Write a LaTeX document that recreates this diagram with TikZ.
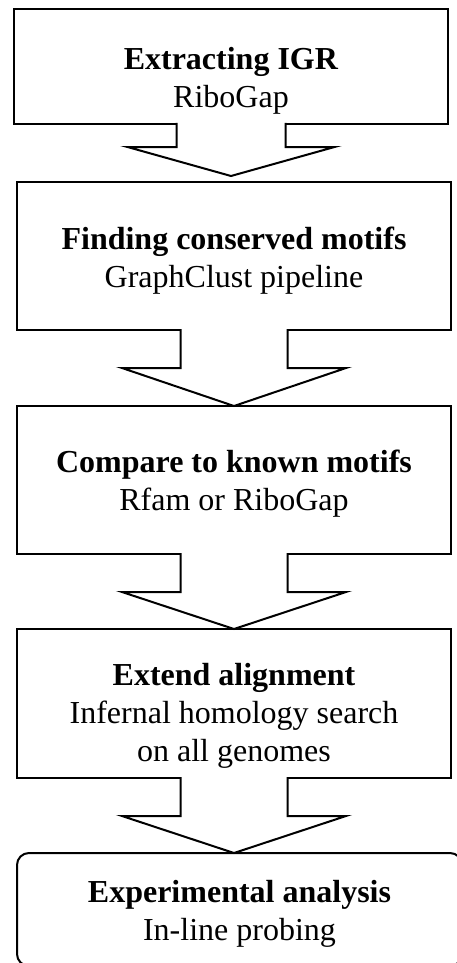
\documentclass[tikz,border=0pt]{standalone}
\usepackage{fontspec}
\setmainfont{Liberation Serif}
\usepackage{tikz}
\usetikzlibrary{calc}

\begin{document}
\begin{tikzpicture}[x=1pt,y=-1pt,line width=2pt,font=\fontsize{32}{38}\selectfont]
    \tikzstyle{stepbox}=[draw=black,fill=white,outer sep=0pt,inner sep=0pt,minimum width=434pt]
    \tikzstyle{steptext}=[align=center,text=black,inner sep=0pt]
    \tikzstyle{flowarrow}=[draw=black,fill=white,line join=miter]
    \useasboundingbox (0,0) rectangle (456,963);
    \node[stepbox,minimum height=115pt] (igr)    at (231,66.5)  {};
    \node[stepbox,minimum height=148pt] (motifs) at (234,256)   {};
    \node[stepbox,minimum height=148pt] (known)  at (234,480)   {};
    \node[stepbox,minimum height=149pt] (extend) at (234,703.5) {};
    \node[stepbox,minimum height=113pt,minimum width=445pt,rounded corners=12pt] (probe) at (239.5,909.5) {};

    \node[steptext] (igr-t)    at ([yshift=-14.75pt]igr.center)   {\textbf{Extracting IGR}\\RiboGap};
    \node[steptext] (motifs-t) at ([yshift=-4.75pt]motifs.center) {\textbf{Finding conserved motifs}\\GraphClust pipeline};
    \node[steptext] (known-t)  at ([yshift=-3.75pt]known.center)  {\textbf{Compare to known motifs}\\Rfam or RiboGap};
    \node[steptext] (extend-t) at ([yshift=-12.25pt]extend.center) {\textbf{Extend alignment}\\Infernal homology search\\on all genomes};
    \node[steptext] (probe-t)  at ([yshift=-4.75pt]probe.center)  {\textbf{Experimental analysis}\\In-line probing};

    % first arrow is shorter, tip stops just above the box
    \coordinate (tip) at ([yshift=6pt]motifs.north);
    \draw[flowarrow] ([shift={(-54.5,-1)}]igr.south) -- ([shift={(-54.5,23)}]igr.south)
        -- ([shift={(-103.5,23)}]igr.south) -- (igr.south |- tip)
        -- ([shift={(103.5,23)}]igr.south) -- ([shift={(54.5,23)}]igr.south)
        -- ([shift={(54.5,-1)}]igr.south);
    \foreach \a/\b in {motifs/known,known/extend,extend/probe}
        \draw[flowarrow] ([shift={(-53.5,-1)}]\a.south) -- ([shift={(-53.5,38)}]\a.south)
            -- ([shift={(-112,38)}]\a.south) -- (\a.south |- \b.north)
            -- ([shift={(112,38)}]\a.south) -- ([shift={(53.5,38)}]\a.south)
            -- ([shift={(53.5,-1)}]\a.south);
\end{tikzpicture}
\end{document}
